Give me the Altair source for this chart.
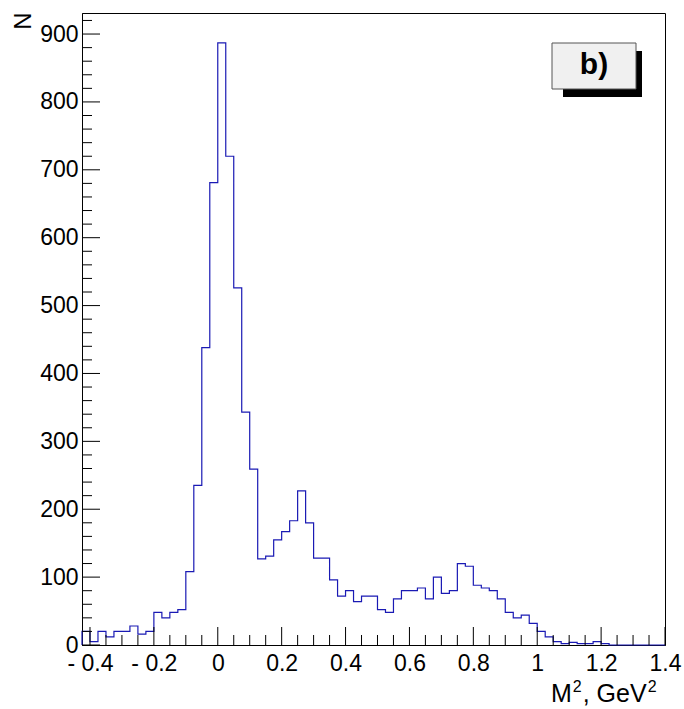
import altair as alt
import pandas as pd

# Histogram definition: 73 bins of width 0.025 starting at -0.425
bin_start = -0.425
bin_width = 0.025
counts = [20, 5, 20, 12, 20, 20, 28, 16, 20, 48,
          40, 48, 52, 108, 235, 438, 681, 887, 720, 526,
          343, 259, 127, 131, 155, 167, 183, 227, 180, 128,
          128, 96, 72, 80, 64, 72, 72, 52, 48, 68,
          80, 80, 84, 68, 100, 76, 80, 120, 116, 88,
          84, 80, 68, 48, 40, 44, 32, 20, 12, 5,
          2, 4, 2, 2, 5, 2, 0, 0, 0, 0,
          0, 0, 0]

x_major = [-0.4, -0.2, 0.0, 0.2, 0.4, 0.6, 0.8, 1.0, 1.2, 1.4]
x_minor = [-0.35, -0.3, -0.25, -0.15, -0.1, -0.05, 0.05, 0.1, 0.15, 0.25, 0.3, 0.35,
           0.45, 0.5, 0.55, 0.65, 0.7, 0.75, 0.85, 0.9, 0.95, 1.05, 1.1, 1.15, 1.25, 1.3, 1.35]
y_major = [0, 100, 200, 300, 400, 500, 600, 700, 800, 900]
y_minor = [20, 40, 60, 80, 120, 140, 160, 180, 220, 240, 260, 280, 320, 340, 360, 380,
           420, 440, 460, 480, 520, 540, 560, 580, 620, 640, 660, 680, 720, 740, 760, 780,
           820, 840, 860, 880, 920]

x_domain = [-0.425, 1.4]
y_domain = [0, 931]

# x-axis title pieces: (text, is_superscript)
x_title_parts = [("M", False), ("2", True), (", GeV", False), ("2", True)]
y_title = "N"
panel_label = "b)"

W, H = 583, 632
FONT = "Liberation Sans"
LINE = "#1a1ab4"

# step outline rows
n = len(counts)
edges = [bin_start + i * bin_width for i in range(n + 1)]
rows = [{"x": edges[0], "y": 0, "o": 0}]
for i, c in enumerate(counts):
    rows.append({"x": edges[i], "y": c, "o": 2 * i + 1})
    rows.append({"x": edges[i + 1], "y": c, "o": 2 * i + 2})
rows.append({"x": edges[-1], "y": 0, "o": 2 * n + 1})
hist_df = pd.DataFrame(rows)

xs = alt.Scale(domain=x_domain, nice=False, zero=False)
ys = alt.Scale(domain=y_domain, nice=False, zero=False)

x_label_expr = ("datum.value < 0 ? '- ' + format(-datum.value, '~g') : "
                "format(datum.value, '~g')")

x_axis = alt.Axis(
    values=x_major, labelExpr=x_label_expr, ticks=False, grid=False,
    domainColor="black", labelFont=FONT, labelFontSize=23, labelColor="black",
    labelPadding=7, labelFlush=False, labelOverlap=False, labelBound=False,
    title=None)
y_axis = alt.Axis(
    values=y_major, format="d", ticks=False, grid=False,
    domainColor="black", labelFont=FONT, labelFontSize=23, labelColor="black",
    labelPadding=4, labelFlush=False, labelOverlap=False, labelBound=False,
    title=y_title, titleFont=FONT, titleFontSize=24, titleFontWeight="normal",
    titleColor="black", titleAngle=-90, titleX=-59, titleY=-1,
    titleAlign="right", titleBaseline="middle")

hist = alt.Chart(hist_df).mark_line(color=LINE, strokeWidth=1.2).encode(
    x=alt.X("x:Q", scale=xs, axis=x_axis),
    y=alt.Y("y:Q", scale=ys, axis=y_axis, title=y_title),
    order="o:Q",
)

xmaj = alt.Chart(pd.DataFrame({"v": x_major})).mark_rule(color="black").encode(
    x=alt.X("v:Q", scale=xs, axis=x_axis),
    y=alt.value(H), y2=alt.value(H - 18))
xmin_ = alt.Chart(pd.DataFrame({"v": x_minor})).mark_rule(color="black").encode(
    x=alt.X("v:Q", scale=xs, axis=x_axis),
    y=alt.value(H), y2=alt.value(H - 10))
ymaj = alt.Chart(pd.DataFrame({"v": y_major})).mark_rule(color="black").encode(
    y=alt.Y("v:Q", scale=ys, axis=y_axis, title=y_title),
    x=alt.value(0), x2=alt.value(18))
ymin_ = alt.Chart(pd.DataFrame({"v": y_minor})).mark_rule(color="black").encode(
    y=alt.Y("v:Q", scale=ys, axis=y_axis, title=y_title),
    x=alt.value(0), x2=alt.value(10))

one = pd.DataFrame({"a": [0]})
shadow = alt.Chart(one).mark_rect(color="black").encode(
    x=alt.value(481), x2=alt.value(560), y=alt.value(38), y2=alt.value(84))
box = alt.Chart(one).mark_rect(fill="#f0f0f0", stroke="#555555", strokeWidth=1).encode(
    x=alt.value(470), x2=alt.value(554), y=alt.value(30), y2=alt.value(76))
label = alt.Chart(one).mark_text(text=panel_label, font=FONT, fontSize=30, fontWeight="bold",
                                 color="black", align="center", baseline="middle").encode(
    x=alt.value(512), y=alt.value(52))

# x-axis title built from pieces (main text and superscripts)
title_layers = []
tx = 469  # left start, relative to plot origin
base = 689
for text, sup in x_title_parts:
    size = 16 if sup else 25
    yb = base - 10 if sup else base
    title_layers.append(
        alt.Chart(one).mark_text(text=text, font=FONT, fontSize=size, color="black",
                                 align="left", baseline="alphabetic").encode(
            x=alt.value(tx), y=alt.value(yb)))
    # advance using approximate Liberation Sans widths
    widths = {"M": 0.833, "2": 0.556, ",": 0.278, " ": 0.278, "G": 0.778, "e": 0.556, "V": 0.667}
    tx += sum(widths.get(ch, 0.556) for ch in text) * size + (1 if sup else 1)

chart = alt.layer(hist, ymin_, ymaj, xmin_, xmaj, shadow, box, label, *title_layers).properties(
    width=W, height=H,
    autosize=alt.AutoSizeParams(type="none"),
    padding={"left": 82, "top": 13, "right": 19, "bottom": 64},
    background="white",
).configure_view(stroke="black", strokeWidth=1)

chart.save("out.html", embed_options={"renderer": "svg", "actions": False})
